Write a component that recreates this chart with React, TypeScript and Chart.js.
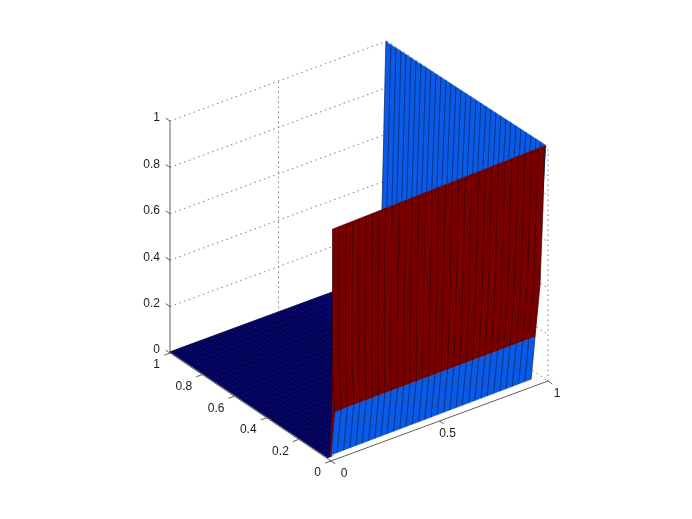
import React, { useEffect, useRef } from "react";
import { Chart, registerables } from "chart.js";

Chart.register(...registerables);

// ---- tick labels ----
const xTicks = [0, 0.5, 1];
const xTickLabels = ["0", "0.5", "1"];
const yTicks = [0, 0.2, 0.4, 0.6, 0.8, 1];
const yTickLabels = ["0", "0.2", "0.4", "0.6", "0.8", "1"];
const zTicks = [0, 0.2, 0.4, 0.6, 0.8, 1];
const zTickLabels = ["0", "0.2", "0.4", "0.6", "0.8", "1"];

// ---- surface mesh positions (fraction along each wall) ----
const meshSteps = [
  0, 0.031, 0.063, 0.094, 0.125, 0.156, 0.188, 0.219, 0.25, 0.281, 0.313, 0.344, 0.375, 0.406, 0.438, 0.469, 0.5,
  0.531, 0.563, 0.594, 0.625, 0.656, 0.688, 0.719, 0.75, 0.781, 0.813, 0.844, 0.875, 0.906, 0.938, 0.969, 1,
];

// ---- front wall (y close to 0), read row by row from the bottom edge up ----
const frontXLeft = [0, 0.018, 0.006, 0.006, 0.008];
const frontXRight = [0.922, 0.94, 0.963, 0.977, 0.985];
const frontZLeft = [0.026, 0.205, 0.43, 0.77, 0.997];
const frontZRight = [0.034, 0.21, 0.427, 0.767, 1.019];

// ---- sliver at the lower left of the front wall (x, z) ----
const sliverX = [-0.005, 0.005, 0.006, 0.018, 0];
const sliverZ = [0.02, 0.2, 0.43, 0.205, 0.026];

// ---- back wall (x close to 1), top row and a lower hidden row ----
const backXTop = [0.995, 0.99];
const backZTop = [1.0, 1.02];
const backXLow = [0.977, 0.94];
const backZLow = [0.281, 0.3];

// ---- floor outline, its hidden part tucked behind the walls (x, y) ----
const floorX = [0, 0, 0.015, 0.5, 1, 1];
const floorY = [1, 0.02, 0.02, 0.5, 0.5, 1];

// ---- small teal patch at the far corner (x, y, z) ----
const cornerX = [0.972, 0.985, 0.98];
const cornerY = [0.0, 0.0, 0.0];
const cornerZ = [1.01, 1.019, 0.995];

const BLUE = "#0a5ae6";
const RED = "#7a0000";
const NAVY = "#05056e";
const EDGE = "rgba(0,0,0,0.42)";
const FLOOR_EDGE = "rgba(0,0,0,0.5)";
const GRID = "#7a7a7a";
const AXIS = "#5f5f5f";

const project = (x: number, y: number, z: number) => ({
  x: 331 + 217 * x - 161 * y,
  y: 461 - 80 * x - 108 * y - 232 * z,
});

const lerp = (a: number, b: number, t: number) => a + (b - a) * t;

const line = (pts: number[][], color: string, width: number, dash: number[] = []) => ({
  data: pts.map((p) => project(p[0], p[1], p[2])),
  showLine: true,
  borderColor: color,
  borderWidth: width,
  borderDash: dash,
  pointRadius: 0,
  tension: 0,
  fill: false,
});

const poly = (pts: number[][], color: string) => ({
  data: [...pts, pts[0]].map((p) => project(p[0], p[1], p[2])),
  showLine: true,
  backgroundColor: color,
  borderColor: color,
  borderWidth: 0.5,
  pointRadius: 0,
  tension: 0,
  fill: "shape",
});

function buildDatasets() {
  const ds: any[] = [];
  const dot = [1.5, 3.5];

  // dotted grid on the back planes
  zTicks.forEach((z) => {
    ds.push(line([[0, 1, z], [1, 1, z]], GRID, 1, dot));
    ds.push(line([[1, 1, z], [1, 0, z]], GRID, 1, dot));
  });
  ds.push(line([[0.5, 1, 0], [0.5, 1, 1]], GRID, 1, dot));
  ds.push(line([[1, 1, 0], [1, 1, 1]], GRID, 1, dot));
  ds.push(line([[1, 0, 0], [1, 0, 1]], GRID, 1, dot));

  // solid axes with ticks
  ds.push(line([[0, 1, 0], [0, 1, 1]], AXIS, 1));
  ds.push(line([[0, 0, 0], [1, 0, 0]], AXIS, 1));
  ds.push(line([[0, 0, 0], [0, 1, 0]], AXIS, 1));
  zTicks.forEach((z) => ds.push(line([[0, 1, z], [0, 1.027, z]], AXIS, 1)));
  yTicks.forEach((y) => ds.push(line([[0, y, 0], [-0.027, y, 0]], AXIS, 1)));
  xTicks.forEach((x) => ds.push(line([[x, 0, 0], [x, -0.027, 0]], AXIS, 1)));

  // floor: outline fill, then the mesh, kept to the part not behind the front wall
  ds.push(poly(floorX.map((x, i) => [x, floorY[i], 0.005]), NAVY));
  const floorClip = { left: 0, top: 0, bottom: 0, right: -358 };
  meshSteps.forEach((t) => {
    const y = lerp(0.02, 1, t);
    ds.push({ ...line([[0, y, 0.005], [1, y, 0.005]], FLOOR_EDGE, 0.8), clip: floorClip });
    ds.push({ ...line([[t * 0.6, 0.02, 0.005], [t * 0.6, 1, 0.005]], FLOOR_EDGE, 0.8), clip: floorClip });
  });

  // back wall: fill, then one dark line per mesh step
  const backAt = (t: number, top: boolean) =>
    top
      ? [lerp(backXTop[0], backXTop[1], t), 1 - t, lerp(backZTop[0], backZTop[1], t)]
      : [lerp(backXLow[0], backXLow[1], t), 1 - t, lerp(backZLow[0], backZLow[1], t)];
  ds.push(poly([backAt(0, true), backAt(1, true), backAt(1, false), backAt(0, false)], BLUE));
  meshSteps.forEach((t) => ds.push(line([backAt(t, true), backAt(t, false)], EDGE, 1)));

  // teal corner
  ds.push(poly(cornerX.map((x, i) => [x, cornerY[i], cornerZ[i]]), "#2fb3b0"));

  // front wall: fills, then one dark polyline per mesh step
  const at = (row: number, t: number) => [
    lerp(frontXLeft[row], frontXRight[row], t),
    0,
    lerp(frontZLeft[row], frontZRight[row], t),
  ];
  const redRows = frontXLeft.map((_, r) => r).slice(1);
  ds.push(poly(sliverX.map((x, i) => [x, 0, sliverZ[i]]), RED));
  ds.push(poly([...redRows.map((r) => at(r, 0)), ...[...redRows].reverse().map((r) => at(r, 1))], RED));
  ds.push(poly([at(0, 0), at(0, 1), at(1, 1), at(1, 0)], BLUE));
  meshSteps.forEach((t) => {
    ds.push(line(frontXLeft.map((_, r) => at(r, t)), EDGE, 1));
  });

  return ds.reverse();
}

const tickText = {
  id: "tickText",
  afterDatasetsDraw(chart: any) {
    const { ctx, scales } = chart;
    const put = (p: { x: number; y: number }, s: string, dx: number, dy: number, align: CanvasTextAlign) => {
      ctx.textAlign = align;
      ctx.fillText(s, scales.x.getPixelForValue(p.x) + dx, scales.y.getPixelForValue(p.y) + dy);
    };
    ctx.save();
    ctx.font = "12px 'Liberation Sans', Arial, sans-serif";
    ctx.fillStyle = "#1c1c1c";
    ctx.textBaseline = "middle";
    zTicks.forEach((z, i) => put(project(0, 1, z), zTickLabels[i], -10, -3, "right"));
    yTicks.forEach((y, i) => put(project(0, y, 0), yTickLabels[i], -10, 12, "right"));
    const xDx = [13, 8, 9];
    xTicks.forEach((x, i) => put(project(x, 0, 0), xTickLabels[i], xDx[i], 13, "center"));
    ctx.restore();
  },
};

export default function App() {
  const ref = useRef<HTMLCanvasElement>(null);
  useEffect(() => {
    const chart = new Chart(ref.current as HTMLCanvasElement, {
      type: "scatter",
      data: { datasets: buildDatasets() },
      options: {
        animation: false,
        responsive: false,
        layout: { padding: 0 },
        plugins: { legend: { display: false }, tooltip: { enabled: false } },
        scales: {
          x: { type: "linear", min: 0, max: 692, display: false },
          y: { type: "linear", min: 0, max: 519, reverse: true, display: false },
        },
      },
      plugins: [tickText],
    } as any);
    return () => chart.destroy();
  }, []);
  return (
    <canvas
      ref={ref}
      width={692}
      height={519}
      style={{ position: "fixed", left: 0, top: 0, width: 692, height: 519, background: "#fff" }}
    />
  );
}
